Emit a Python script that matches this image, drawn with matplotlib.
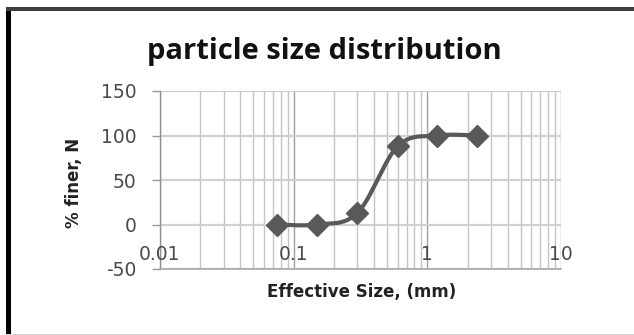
import numpy as np
import matplotlib
matplotlib.use("Agg")
import matplotlib.pyplot as plt
from matplotlib.patches import Rectangle
from matplotlib.ticker import FixedLocator, NullFormatter, LogLocator, FuncFormatter

# ---- data ----
sizes_mm = [0.075, 0.15, 0.3, 0.6, 1.18, 2.36]
percent_finer = [0, 0, 13, 88, 100, 100]
x_tick_values = [0.01, 0.1, 1, 10]
x_tick_labels = ["0.01", "0.1", "1", "10"]
y_tick_values = [-50, 0, 50, 100, 150]

title = "particle size distribution"
xlabel = "Effective Size, (mm)"
ylabel = "% finer, N"

plt.rcParams['font.family'] = ['DejaVu Sans']

W, H = 634, 335
fig = plt.figure(figsize=(W / 100, H / 100), dpi=100)
fig.patch.set_facecolor("white")

ax = fig.add_axes([160 / W, 1 - 269 / H, (561 - 160) / W, (269 - 91) / H])
ax.set_xscale("log")
ax.set_xlim(0.01, 10)
ax.set_ylim(-50, 150)

TICK_COLOR = "#4a4a4a"

# grid
ax.xaxis.set_major_locator(FixedLocator(x_tick_values))
ax.xaxis.set_minor_locator(LogLocator(base=10, subs=np.arange(2, 10)))
ax.xaxis.set_major_formatter(NullFormatter())
ax.xaxis.set_minor_formatter(NullFormatter())
ax.set_yticks(y_tick_values)
ax.yaxis.set_major_formatter(FuncFormatter(lambda v, p: f"{int(v)}"))
ax.grid(True, which="major", axis="y", color="#d0d0d0", linewidth=1.6)
ax.grid(True, which="major", axis="x", color="#a0a0a0", linewidth=1.0)
ax.grid(True, which="minor", axis="x", color="#c4c4c4", linewidth=1.0)
ax.tick_params(axis="x", which="both", length=0)
ax.tick_params(axis="y", which="major", length=6, width=1, color="#999999",
               labelsize=13.5, labelcolor=TICK_COLOR, pad=11)
for s in ["top", "right"]:
    ax.spines[s].set_visible(False)
ax.spines["left"].set_color("#909090")
ax.spines["bottom"].set_color("#a8a8a8")
ax.spines["bottom"].set_linewidth(1.2)
ax.spines["left"].set_linewidth(1.0)

# x tick labels just above the bottom of plot area
for v, t in zip(x_tick_values, x_tick_labels):
    ax.text(v, 0.08, t, transform=ax.get_xaxis_transform(), ha="center", va="center",
            fontsize=13.5, color=TICK_COLOR, zorder=5)

# smoothed line (Bezier through points in log-x space)
lx = np.log10(sizes_mm)
py = np.array(percent_finer, dtype=float)
pts = np.column_stack([lx, py])
curve = []
n = len(pts)
for i in range(n - 1):
    p0 = pts[max(i - 1, 0)]
    p1 = pts[i]
    p2 = pts[i + 1]
    p3 = pts[min(i + 2, n - 1)]
    c1 = p1 + (p2 - p0) / 6.0
    c2 = p2 - (p3 - p1) / 6.0
    t = np.linspace(0, 1, 30)[:, None]
    seg = ((1 - t) ** 3) * p1 + 3 * ((1 - t) ** 2) * t * c1 + 3 * (1 - t) * t ** 2 * c2 + t ** 3 * p2
    curve.append(seg if i == 0 else seg[1:])
curve = np.vstack(curve)
ax.plot(10 ** curve[:, 0], curve[:, 1], color="#595959", linewidth=3.0, zorder=6,
        solid_capstyle="round")
ax.plot(sizes_mm, percent_finer, linestyle="none", marker="D", markersize=11,
        color="#595959", markeredgecolor="#595959", zorder=7)

# titles
fig.text(324 / W, 1 - 51 / H, title, ha="center", va="center", fontsize=21,
         fontweight="bold", color="#111111", family=["Open Sans", "DejaVu Sans"])
fig.text(362 / W, 1 - 292 / H, xlabel, ha="center", va="center", fontsize=12,
         fontweight="bold", color="#222222")
fig.text(74 / W, 1 - 183 / H, ylabel, ha="center", va="center", fontsize=12,
         fontweight="bold", color="#222222", rotation=90)

# outer frame
fig.patches.append(Rectangle((6 / W, 0), 5 / W, 1 - 7 / H, transform=fig.transFigure,
                             facecolor="black", edgecolor="none"))
fig.patches.append(Rectangle((6 / W, 1 - 11 / H), 1 - 6 / W, 4 / H, transform=fig.transFigure,
                             facecolor="#404040", edgecolor="none"))
fig.patches.append(Rectangle((6 / W, 0), 1 - 6 / W, 1.5 / H, transform=fig.transFigure,
                             facecolor="#d8d8d8", edgecolor="none"))

fig.savefig("out.png", dpi=100)
